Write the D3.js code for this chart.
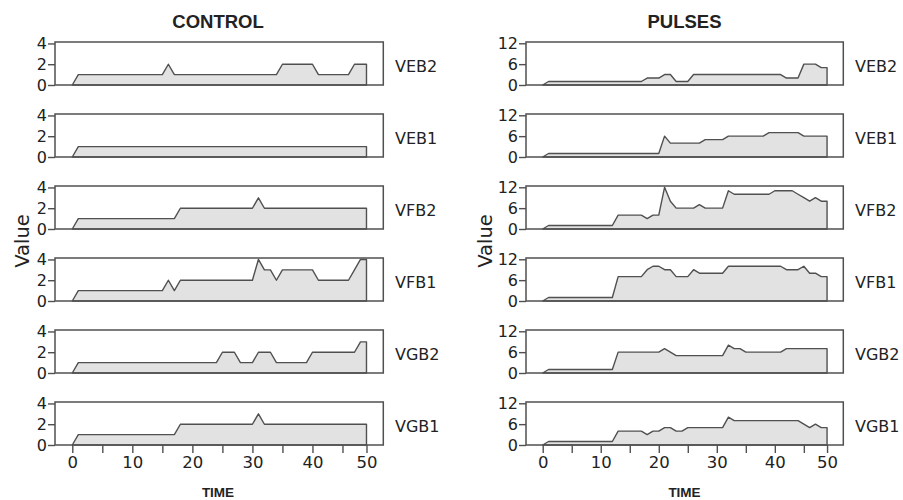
<!DOCTYPE html>
<html>
<head>
<meta charset="utf-8">
<script src="https://cdn.jsdelivr.net/npm/d3@7"></script>
<style>
    body { margin: 0; background: #fff; }
    text { font-family: "DejaVu Sans", sans-serif; fill: #222; }
</style>
</head>
<body>
<div id="chart"></div>
<script>
// time steps of every series
var time = [0, 1, 2, 3, 4, 5, 6, 7, 8, 9, 10, 11, 12, 13, 14, 15, 16, 17, 18, 19,
    20, 21, 22, 23, 24, 25, 26, 27, 28, 29, 30, 31, 32, 33, 34, 35, 36, 37, 38, 39,
    40, 41, 42, 43, 44, 45, 46, 47, 48, 49];

var seriesNames = ["VEB2", "VEB1", "VFB2", "VFB1", "VGB2", "VGB1"];

// CONTROL
var controlVEB2 = [0, 1, 1, 1, 1, 1, 1, 1, 1, 1, 1, 1, 1, 1, 1, 1, 2, 1, 1, 1,
    1, 1, 1, 1, 1, 1, 1, 1, 1, 1, 1, 1, 1, 1, 1, 2, 2, 2, 2, 2,
    2, 1, 1, 1, 1, 1, 1, 2, 2, 2];
var controlVEB1 = [0, 1, 1, 1, 1, 1, 1, 1, 1, 1, 1, 1, 1, 1, 1, 1, 1, 1, 1, 1,
    1, 1, 1, 1, 1, 1, 1, 1, 1, 1, 1, 1, 1, 1, 1, 1, 1, 1, 1, 1,
    1, 1, 1, 1, 1, 1, 1, 1, 1, 1];
var controlVFB2 = [0, 1, 1, 1, 1, 1, 1, 1, 1, 1, 1, 1, 1, 1, 1, 1, 1, 1, 2, 2,
    2, 2, 2, 2, 2, 2, 2, 2, 2, 2, 2, 3, 2, 2, 2, 2, 2, 2, 2, 2,
    2, 2, 2, 2, 2, 2, 2, 2, 2, 2];
var controlVFB1 = [0, 1, 1, 1, 1, 1, 1, 1, 1, 1, 1, 1, 1, 1, 1, 1, 2, 1, 2, 2,
    2, 2, 2, 2, 2, 2, 2, 2, 2, 2, 2, 4, 3, 3, 2, 3, 3, 3, 3, 3,
    3, 2, 2, 2, 2, 2, 2, 3, 4, 4];
var controlVGB2 = [0, 1, 1, 1, 1, 1, 1, 1, 1, 1, 1, 1, 1, 1, 1, 1, 1, 1, 1, 1,
    1, 1, 1, 1, 1, 2, 2, 2, 1, 1, 1, 2, 2, 2, 1, 1, 1, 1, 1, 1,
    2, 2, 2, 2, 2, 2, 2, 2, 3, 3];
var controlVGB1 = [0, 1, 1, 1, 1, 1, 1, 1, 1, 1, 1, 1, 1, 1, 1, 1, 1, 1, 2, 2,
    2, 2, 2, 2, 2, 2, 2, 2, 2, 2, 2, 3, 2, 2, 2, 2, 2, 2, 2, 2,
    2, 2, 2, 2, 2, 2, 2, 2, 2, 2];

// PULSES
var pulsesVEB2 = [0, 1, 1, 1, 1, 1, 1, 1, 1, 1, 1, 1, 1, 1, 1, 1, 1, 1, 2, 2,
    2, 3, 3, 1, 1, 1, 3, 3, 3, 3, 3, 3, 3, 3, 3, 3, 3, 3, 3, 3,
    3, 3, 2, 2, 2, 6, 6, 6, 5, 5];
var pulsesVEB1 = [0, 1, 1, 1, 1, 1, 1, 1, 1, 1, 1, 1, 1, 1, 1, 1, 1, 1, 1, 1,
    1, 6, 4, 4, 4, 4, 4, 4, 5, 5, 5, 5, 6, 6, 6, 6, 6, 6, 6, 7,
    7, 7, 7, 7, 7, 6, 6, 6, 6, 6];
var pulsesVFB2 = [0, 1, 1, 1, 1, 1, 1, 1, 1, 1, 1, 1, 1, 4, 4, 4, 4, 4, 3, 4,
    4, 12, 8, 6, 6, 6, 6, 7, 6, 6, 6, 6, 11, 10, 10, 10, 10, 10, 10, 10,
    11, 11, 11, 11, 10, 9, 8, 9, 8, 8];
var pulsesVFB1 = [0, 1, 1, 1, 1, 1, 1, 1, 1, 1, 1, 1, 1, 7, 7, 7, 7, 7, 9, 10,
    10, 9, 9, 7, 7, 7, 9, 8, 8, 8, 8, 8, 10, 10, 10, 10, 10, 10, 10, 10,
    10, 10, 9, 9, 9, 10, 8, 8, 7, 7];
var pulsesVGB2 = [0, 1, 1, 1, 1, 1, 1, 1, 1, 1, 1, 1, 1, 6, 6, 6, 6, 6, 6, 6,
    6, 7, 6, 5, 5, 5, 5, 5, 5, 5, 5, 5, 8, 7, 7, 6, 6, 6, 6, 6,
    6, 6, 7, 7, 7, 7, 7, 7, 7, 7];
var pulsesVGB1 = [0, 1, 1, 1, 1, 1, 1, 1, 1, 1, 1, 1, 1, 4, 4, 4, 4, 4, 3, 4,
    4, 5, 5, 4, 4, 5, 5, 5, 5, 5, 5, 5, 8, 7, 7, 7, 7, 7, 7, 7,
    7, 7, 7, 7, 7, 6, 5, 6, 5, 5];

var controlTicks = [0, 2, 4];
var pulsesTicks = [0, 6, 12];
// the last labelled tick of the picture sits on the last time step
var xTickValues = [0, 5, 10, 15, 20, 25, 30, 35, 40, 45, 49];
var xTickLabels = ["0", "", "10", "", "20", "", "30", "", "40", "", "50"];

var svgWidth = 903, svgHeight = 500;
var rowTop = 42, rowStep = 72, rowHeight = 43;
var lineColor = "#505050", fillColor = "#e2e2e2";

var svg = d3.select("#chart").append("svg")
    .attr("width", svgWidth)
    .attr("height", svgHeight);

var panels = [
    {title: "CONTROL", left: 55, right: 383.3, yMax: 4.14, ticks: controlTicks,
        data: [controlVEB2, controlVEB1, controlVFB2, controlVFB1, controlVGB2, controlVGB1],
        labelX: 395, center: 218, valueX: 28.5},
    {title: "PULSES", left: 526, right: 843.3, yMax: 12.37, ticks: pulsesTicks,
        data: [pulsesVEB2, pulsesVEB1, pulsesVFB2, pulsesVFB1, pulsesVGB2, pulsesVGB1],
        labelX: 855, center: 684.5, valueX: 491.5}
];

panels.forEach(drawPanel);

function drawPanel(p) {
    var x = d3.scaleLinear().domain([-2.88, 51.8]).range([p.left, p.right]);
    var y = d3.scaleLinear().domain([0, p.yMax]).range([rowHeight, 0]);

    var area = d3.area()
        .x(function (d) { return x(d.t); })
        .y0(y(0))
        .y1(function (d) { return y(d.v); });

    p.data.forEach(function (values, i) {
        var g = svg.append("g")
            .attr("transform", "translate(0," + (rowTop + i * rowStep) + ")");

        var pts = values.map(function (v, k) {
            return {t: time[k], v: v};
        });

        g.append("path")
            .datum(pts)
            .attr("d", area)
            .attr("fill", fillColor)
            .attr("stroke", lineColor)
            .attr("stroke-width", 1.4)
            .attr("stroke-linejoin", "round");

        g.append("rect")
            .attr("x", p.left)
            .attr("y", 0)
            .attr("width", p.right - p.left)
            .attr("height", rowHeight)
            .attr("fill", "none")
            .attr("stroke", lineColor)
            .attr("stroke-width", 1.5);

        var ax = g.append("g")
            .attr("transform", "translate(" + p.left + ",0)")
            .call(d3.axisLeft(y).tickValues(p.ticks)
                .tickFormat(d3.format("d")).tickSize(7).tickPadding(1));
        ax.select(".domain").remove();
        ax.selectAll("line").attr("stroke", lineColor).attr("stroke-width", 1.4);
        ax.selectAll("text").style("font-size", "16px").style("font-family", "DejaVu Sans");

        g.append("text")
            .attr("x", p.labelX)
            .attr("y", rowHeight / 2 + 8)
            .style("font-size", "16px")
            .text(seriesNames[i]);
    });

    var bottom = rowTop + (p.data.length - 1) * rowStep + rowHeight;
    var xa = svg.append("g")
        .attr("transform", "translate(0," + bottom + ")")
        .call(d3.axisBottom(x).tickValues(xTickValues)
            .tickFormat(function (d, i) { return xTickLabels[i]; })
            .tickSize(8).tickPadding(3));
    xa.select(".domain").remove();
    xa.selectAll("line").attr("stroke", lineColor).attr("stroke-width", 1.4);
    xa.selectAll("text").style("font-size", "16.5px").style("font-family", "DejaVu Sans");

    svg.append("text")
        .attr("x", p.center)
        .attr("y", 28)
        .attr("text-anchor", "middle")
        .style("font-family", "Liberation Sans, Arial, sans-serif")
        .style("font-weight", "bold")
        .style("font-size", "18.5px")
        .text(p.title);

    svg.append("text")
        .attr("x", p.center)
        .attr("y", 497)
        .attr("text-anchor", "middle")
        .style("font-family", "Liberation Sans, Arial, sans-serif")
        .style("font-weight", "bold")
        .style("font-size", "13.5px")
        .text("TIME");

    svg.append("text")
        .attr("transform", "translate(" + p.valueX + ",241) rotate(-90)")
        .attr("text-anchor", "middle")
        .style("font-size", "19.5px")
        .text("Value");
}
</script>
</body>
</html>
